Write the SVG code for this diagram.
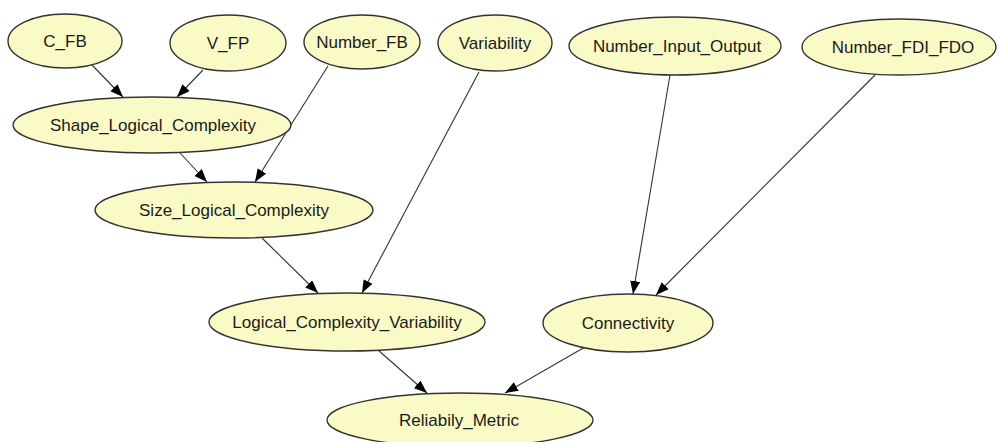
<svg xmlns="http://www.w3.org/2000/svg" width="999" height="442" viewBox="0 0 999 442">
  <defs>
    <marker id="arrow" markerUnits="userSpaceOnUse" markerWidth="14" markerHeight="12" refX="13" refY="5" orient="auto">
      <path d="M0,0 L13,5 L0,10 Z" fill="#000"/>
    </marker>
    <style>
      .node ellipse { fill: #fafac6; stroke: #333; stroke-width: 1.4; }
      .node text { font-family: "Liberation Sans", Arial, sans-serif; font-size: 17px; fill: #1a1a1a; text-anchor: middle; }
      .edges line { stroke: #333; stroke-width: 1.1; marker-end: url(#arrow); }
    </style>
  </defs>
  <rect width="999" height="442" fill="#fff"/>

  <g class="edges">
    <line x1="92" y1="65" x2="123" y2="97"/>
    <line x1="203" y1="70" x2="177" y2="97"/>
    <line x1="180" y1="153" x2="207" y2="182"/>
    <line x1="328" y1="66" x2="255" y2="182"/>
    <line x1="262" y1="238" x2="318" y2="293"/>
    <line x1="479" y1="72" x2="362" y2="293"/>
    <line x1="670" y1="75" x2="633" y2="294"/>
    <line x1="875" y1="75" x2="656" y2="295"/>
    <line x1="378" y1="350" x2="427" y2="393"/>
    <line x1="585" y1="347" x2="505" y2="393"/>
  </g>

  <g id="C_FB" class="node">
    <ellipse cx="65" cy="41" rx="57" ry="27"/>
    <text x="65" y="47">C_FB</text>
  </g>
  <g id="V_FP" class="node">
    <ellipse cx="228" cy="43" rx="58" ry="28"/>
    <text x="228" y="49">V_FP</text>
  </g>
  <g id="Number_FB" class="node">
    <ellipse cx="362" cy="42" rx="58" ry="27"/>
    <text x="362" y="48">Number_FB</text>
  </g>
  <g id="Variability" class="node">
    <ellipse cx="495" cy="43" rx="57" ry="28"/>
    <text x="495" y="49">Variability</text>
  </g>
  <g id="Number_Input_Output" class="node">
    <ellipse cx="675" cy="46" rx="106" ry="29"/>
    <text x="677" y="52">Number_Input_Output</text>
  </g>
  <g id="Number_FDI_FDO" class="node">
    <ellipse cx="899" cy="47" rx="97" ry="28"/>
    <text x="903" y="53">Number_FDI_FDO</text>
  </g>
  <g id="Shape_Logical_Complexity" class="node">
    <ellipse cx="152" cy="125" rx="139" ry="28"/>
    <text x="153" y="131">Shape_Logical_Complexity</text>
  </g>
  <g id="Size_Logical_Complexity" class="node">
    <ellipse cx="234" cy="210" rx="139" ry="28"/>
    <text x="234" y="216">Size_Logical_Complexity</text>
  </g>
  <g id="Logical_Complexity_Variability" class="node">
    <ellipse cx="347" cy="322" rx="138" ry="29"/>
    <text x="347" y="328">Logical_Complexity_Variability</text>
  </g>
  <g id="Connectivity" class="node">
    <ellipse cx="628" cy="323" rx="85" ry="29"/>
    <text x="628" y="329">Connectivity</text>
  </g>
  <g id="Reliabily_Metric" class="node">
    <ellipse cx="460" cy="420" rx="133" ry="27"/>
    <text x="459" y="426">Reliabily_Metric</text>
  </g>
</svg>
